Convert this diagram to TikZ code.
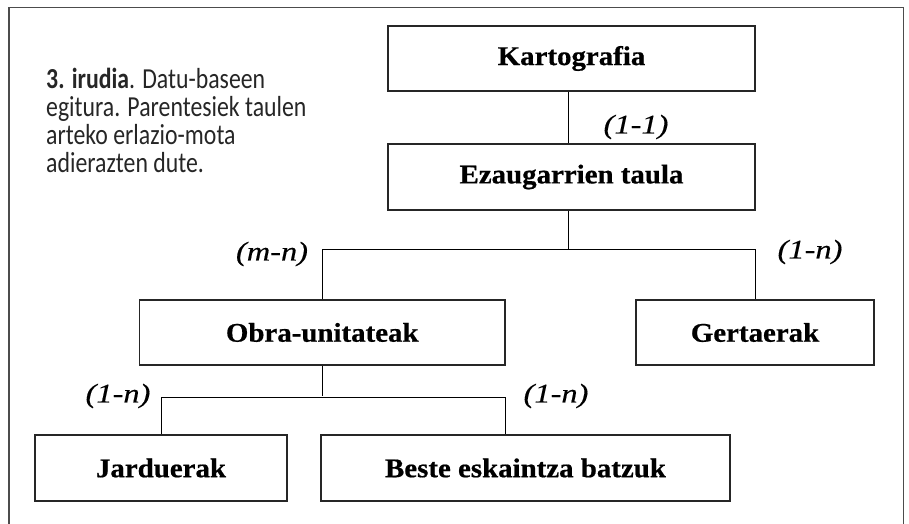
\documentclass[tikz,border=0pt]{standalone}
\usepackage{fontspec}
\setmainfont{Liberation Serif}
\newfontfamily\boxfont[FakeStretch=1.07,FakeBold=0.6]{Liberation Serif}
\newfontfamily\labfont[FakeStretch=1.2,FakeBold=0.4]{Liberation Serif}
\newfontfamily\capfont[FakeStretch=0.82]{Carlito}
\begin{document}
\begin{tikzpicture}[x=1pt,y=-1pt,
  entity/.style={draw=black!85,line width=1.4pt,inner sep=0pt,
    font=\boxfont\bfseries\fontsize{27}{30}\selectfont},
  rel/.style={font=\labfont\itshape\fontsize{27}{30}\selectfont,inner sep=0pt},
  conn/.style={draw=black,line width=1pt},
  frameline/.style={draw=black!70,line width=1.8pt}]
\useasboundingbox (0,0) rectangle (909,524);
% frame
\coordinate (ftl) at (9,7.5);
\coordinate (ftr) at (903.5,7.5);
\coordinate (fbl) at (9,524);
\coordinate (fbr) at (903.5,524);
\draw[frameline] (fbl) -- (ftl) -- (ftr) -- (fbr);
% caption
\node[anchor=north west,inner sep=0pt,align=left,text=black!85,
  font=\capfont\fontsize{29}{28}\selectfont] (cap) at (46,68)
  {\textbf{3. irudia}. Datu-baseen\\egitura. Parentesiek taulen\\arteko erlazio-mota\\adierazten dute.};
% boxes
\node[entity,minimum width=367,minimum height=65] (kart) at (571.5,58.5) {Kartografia};
\node[entity,minimum width=367,minimum height=66] (ezau) at (571.5,177) {Ezaugarrien taula};
\node[entity,minimum width=365.5,minimum height=65] (obra) at (322.25,332.5) {Obra-unitateak};
\node[entity,minimum width=238,minimum height=65] (gert) at (755,332.5) {Gertaerak};
\node[entity,minimum width=252,minimum height=66] (jard) at (161,468) {Jarduerak};
\node[entity,minimum width=409,minimum height=66] (beste) at (525.5,468) {Beste eskaintza batzuk};
% buses
\coordinate (bus1) at (0,249.5);
\coordinate (bus2) at (0,397);
% connectors
\draw[conn] ([xshift=-3pt]kart.south) -- ([xshift=-3pt]ezau.north);
\draw[conn] ([xshift=-3pt]ezau.south) -- ([xshift=-3pt]ezau.south |- bus1);
\draw[conn] (obra.north) -- (obra.north |- bus1) -- (gert.north |- bus1) -- (gert.north);
\draw[conn] (obra.south) -- ([yshift=1pt]obra.south |- bus2);
\draw[conn] (jard.north) -- (jard.north |- bus2) -- (obra.south east |- bus2) -- (obra.south east |- beste.north);
% labels
\node[rel] (l11) at (636,127) {(1-1)};
\node[rel] (lmn) at (272,254) {(m-n)};
\node[rel] (l1n) at (810,252) {(1-n)};
\node[rel] (l1na) at (118,396) {(1-n)};
\node[rel] (l1nb) at (556,396) {(1-n)};
\end{tikzpicture}
\end{document}
